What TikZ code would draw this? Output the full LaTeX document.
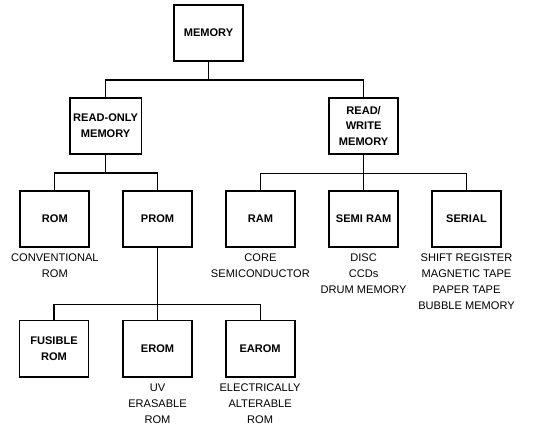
\documentclass[tikz,border=0pt]{standalone}
\usepackage{fontspec}
\setmainfont{Liberation Sans}
\setsansfont{Liberation Sans}
\usetikzlibrary{positioning}

\begin{document}
\begin{tikzpicture}[every node/.style={font=\sffamily\fontsize{10.5}{15}\selectfont},
  memblock/.style={draw,line width=1.8pt,minimum width=2.3cm,minimum height=1.87cm,align=center,font=\sffamily\bfseries\fontsize{10.5}{15}\selectfont},
  note/.style={align=center,inner sep=0pt},
  bus/.style={line width=1pt}]
  \useasboundingbox (0,0) rectangle (18.6,14.5);

  \node[memblock] (mem) at (6.95,13.4) {MEMORY};
  \node[memblock] (ro) at (3.52,10.3) {READ-ONLY\\MEMORY};
  \node[memblock] (rw) at (12.12,10.3) {READ/\\WRITE\\MEMORY};
  \draw[bus] (mem.south) -- ++(0,-.6) coordinate(mbus);
  \draw[bus] (mbus) -| (ro.north);
  \draw[bus] (mbus) -| (rw.north);

  \node[memblock] (rom) at (1.83,7.2) {ROM};
  \node[memblock] (prom) at (5.25,7.2) {PROM};
  \draw[bus] (ro.south) -- ++(0,-.6) coordinate(robus);
  \draw[bus] (robus) -| (rom.north);
  \draw[bus] (robus) -| (prom.north);
  \node[note,below=2mm of rom] (romtxt) {CONVENTIONAL\\ROM};

  \node[memblock] (ram) at (8.68,7.2) {RAM};
  \node[memblock] (semi) at (12.12,7.2) {SEMI RAM};
  \node[memblock] (serial) at (15.55,7.2) {SERIAL};
  \draw[bus] (rw.south) -- ++(0,-.62) coordinate(rwbus);
  \draw[bus] (rwbus) -| (ram.north);
  \draw[bus] (rwbus) -- (semi.north);
  \draw[bus] (rwbus) -| (serial.north);
  \node[note,below=2mm of ram] (ramtxt) {CORE\\SEMICONDUCTOR};
  \node[note,below=2mm of semi] (semitxt) {DISC\\CCDs\\DRUM MEMORY};
  \node[note,below=2mm of serial] (serialtxt) {SHIFT REGISTER\\MAGNETIC TAPE\\PAPER TAPE\\BUBBLE MEMORY};

  \node[memblock] (fus) at (1.8,2.88) {FUSIBLE\\ROM};
  \node[memblock] (erom) at (5.25,2.88) {EROM};
  \node[memblock] (earom) at (8.67,2.88) {EAROM};
  \draw[bus] (prom.south) -- ++(0,-1.87) coordinate(pbus);
  \draw[bus] (pbus) -| (fus.north);
  \draw[bus] (pbus) -- (erom.north);
  \draw[bus] (pbus) -| (earom.north);
  \node[note,below=2mm of erom] (eromtxt) {UV\\ERASABLE\\ROM};
  \node[note,below=2mm of earom] (earomtxt) {ELECTRICALLY\\ALTERABLE\\ROM};
\end{tikzpicture}
\end{document}
